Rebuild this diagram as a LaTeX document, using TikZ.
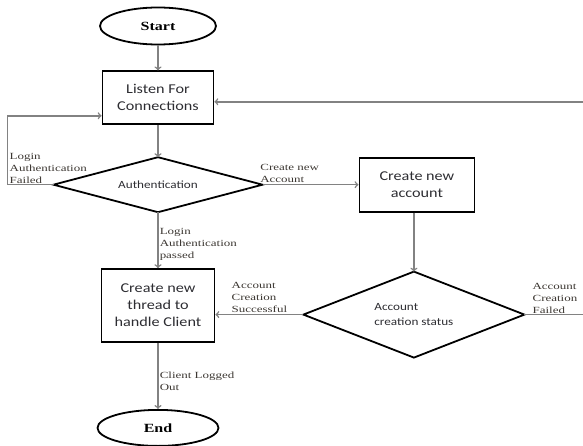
\documentclass[tikz,border=0pt]{standalone}
\usepackage{fontspec}
\usepackage{xcolor}
\usetikzlibrary{shapes.geometric, arrows, positioning, calc}

\newfontfamily\boxfont[FakeStretch=1.2]{Carlito}
\newfontfamily\lblfont[FakeStretch=1.38]{Liberation Serif}
\newfontfamily\termfont[FakeStretch=1.28]{Liberation Serif}

\definecolor{flowgray}{RGB}{130,130,130}
\definecolor{lblgray}{RGB}{60,55,50}
\definecolor{boxtext}{RGB}{45,45,50}

\tikzset{
  terminal/.style={ellipse, draw, line width=1.8pt, minimum width=116pt, minimum height=37pt,
    inner sep=0pt, font=\termfont\bfseries\fontsize{12.5}{14}\selectfont},
  process/.style={rectangle, draw, line width=1.8pt, inner sep=0pt, align=center,
    text=boxtext, font=\boxfont\fontsize{13.5}{17}\selectfont},
  decision/.style={diamond, draw, line width=1.8pt, inner sep=0pt, outer sep=0pt, align=left,
    text=boxtext, font=\boxfont\fontsize{11}{15}\selectfont},
  flow/.style={draw=flowgray, line width=1.5pt, ->},
  lbl/.style={text=lblgray, align=left, inner sep=1pt, font=\lblfont\fontsize{9.4}{12}\selectfont}
}

\begin{document}
\begin{tikzpicture}[x=1pt, y=-1pt, >=to]
\useasboundingbox (0,0) rectangle (583,446);

% Main column
\node[terminal] (start) at (158,26) {Start};
\node[process, minimum width=111pt, minimum height=53pt, below=25pt of start] (listen) {Listen For\\Connections};
\node[decision, aspect=3.8, minimum width=209pt, minimum height=55pt, below=32pt of listen] (auth) {Authentication};
\node[process, minimum width=113pt, minimum height=73pt, below=56pt of auth] (thread) {Create new\\thread to\\handle Client};
\node[terminal, minimum width=121pt, minimum height=36pt, below=66pt of thread] (end) {End};

% Account branch
\node[process, minimum width=115pt, minimum height=54pt, right=96pt of auth] (account) {Create new\\account};
\node[decision, aspect=2.57, minimum width=221pt, minimum height=86pt, below=59pt of account, xshift=-3pt] (status) {Account\\creation status};

% Loop coordinates
\coordinate (lfail) at ([xshift=-46pt]auth.west);
\coordinate (rloop) at ([xshift=64pt]status.east);

% Connectors
\draw[flow] (start) -- (listen);
\draw[flow] (listen) -- (auth);
\draw[flow] (auth) -- node[lbl, right, pos=0.58] {Login\\Authentication\\passed} (thread);
\draw[flow] (thread) -- node[lbl, right, pos=0.58] {Client Logged\\Out} (end);
\draw[flow] (auth.west) -- (lfail) |- ([yshift=-18pt]listen.west);
\node[lbl, anchor=south west] at ([xshift=1pt]lfail) {Login\\Authentication\\Failed};
\draw[flow] (auth.east) -- node[lbl, above, pos=0.2, xshift=8pt] {Create new\\Account} (account.west |- auth.east);
\draw[flow] (account.south -| status.north) -- (status.north);
\draw[flow] (status.west) -- node[lbl, above, pos=0.5] {Account\\Creation\\Successful} (status.west -| thread.east);
\draw[flow] (status.east) -- (rloop) |- ([yshift=-4pt]listen.east);
\node[lbl, anchor=south west] at ([xshift=7pt]status.east) {Account\\Creation\\Failed};
\end{tikzpicture}
\end{document}
